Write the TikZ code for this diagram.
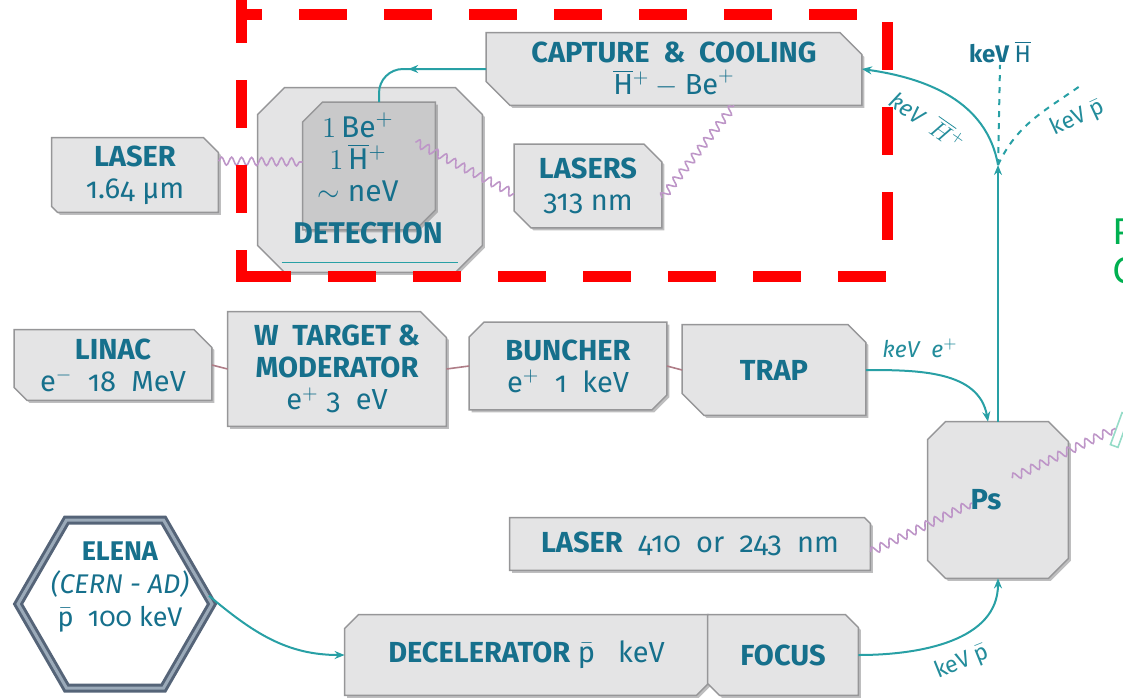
\documentclass[tikz,border=0pt]{standalone}
\usepackage{fontspec}
\setmainfont{Fira Sans}[Numbers=OldStyle]
\newfontfamily\slidefont{Carlito}
\usetikzlibrary{positioning}
\usetikzlibrary{calc}
\usetikzlibrary{arrows.meta}
\usetikzlibrary{shapes.geometric}
\usetikzlibrary{shadows}
\usetikzlibrary{decorations.pathmorphing}
\usetikzlibrary{decorations.markings}
\definecolor{txt}{RGB}{22,112,140}
\definecolor{lbl}{RGB}{35,140,155}
\definecolor{flowc}{RGB}{40,160,165}
\definecolor{boxfill}{RGB}{228,228,229}
\definecolor{boxedge}{RGB}{150,150,152}
\definecolor{shadowc}{RGB}{125,125,127}
\definecolor{innerfill}{RGB}{201,201,202}
\definecolor{wavec}{RGB}{190,150,200}
\definecolor{linkc}{RGB}{175,125,135}
\definecolor{hexedge}{RGB}{85,100,120}
\definecolor{hexin}{RGB}{155,170,185}
\definecolor{hilite}{RGB}{255,0,0}
\definecolor{slidegreen}{RGB}{0,176,80}
\definecolor{screenc}{RGB}{150,220,200}

\pgfdeclarelayer{bg}
\pgfsetlayers{bg,main}

% box outline round a node: corners nw, ne, se, sw cut by #3..#6
\newcommand{\facet}[6][boxfill]{%
    \begin{pgfonlayer}{bg}
        \draw[facetline, fill=#1] ($(#2.north west)+(#3,0)$) -- ($(#2.north east)+(-#4,0)$)
            -- ($(#2.north east)+(0,#4)$) -- ($(#2.south east)+(0,-#5)$)
            -- ($(#2.south east)+(-#5,0)$) -- ($(#2.south west)+(#6,0)$)
            -- ($(#2.south west)+(0,-#6)$) -- ($(#2.north west)+(0,#3)$) -- cycle;
    \end{pgfonlayer}}

\tikzset{
    unit/.style={rectangle, inner sep=0pt, text=txt, align=center, font=\fontsize{14.5}{16}\selectfont},
    facetline/.style={draw=boxedge, line width=0.7pt,
        drop shadow={shadow xshift=1.2pt, shadow yshift=-1.2pt, fill=shadowc}},
    flow/.style={draw=flowc, line width=1pt},
    flowarrow/.style={flow, -{Stealth[length=5pt,width=4pt]}},
    midtip/.style={decoration={markings, mark=at position 0.6 with {\arrow{Stealth[length=5pt,width=4pt]}}}, postaction={decorate}},
    wave/.style={draw=wavec, line width=0.8pt, decorate, decoration={snake, amplitude=2pt, segment length=5pt}},
    link/.style={draw=linkc, line width=0.8pt},
    tag/.style={text=lbl, font=\fontsize{11.5}{12}\selectfont, inner sep=1pt},
    hilite/.style={draw=hilite, line width=5.5pt, dash pattern=on 24pt off 18.5pt},
}

\begin{document}
\begin{tikzpicture}[x=0.5pt, y=-0.5pt]
    \useasboundingbox (0,0) rectangle (1123,697);

    % upper block: detection of the ions
    \node[unit, minimum width=112pt, minimum height=92pt] (detect) at (370,180) {};
    \facet{detect}{27}{27}{27}{27}
    \node[unit, minimum width=66pt, minimum height=63.5pt] (ions) at (369,166) {};
    \facet[innerfill]{ions}{20}{0}{20}{0}
    \node[unit, font=\fontsize{15}{16}\selectfont] (ionsname) at (358,157)
        {$1\,\mathrm{Be}^{+}$\\$1\,\overline{\mathrm{H}}{}^{+}$\\$\sim\mathrm{neV}$};
    \node[unit, font=\fontsize{15}{16}\selectfont\bfseries] (detname) at (368,233) {DETECTION};
    \draw[flow, line width=0.8pt] ($(detect.south west)+(24,-10)$) -- ($(detect.south east)+(-24,-10)$);

    \node[unit, minimum width=83pt, minimum height=37pt] (laserA) at (135,175)
        {\textbf{LASER}\\1.64 µm};
    \facet{laserA}{0}{15}{0}{6}
    \node[unit, minimum width=187.5pt, minimum height=36pt] (capture) at (674,69)
        {\textbf{CAPTURE\ \ \&\ \ COOLING}\\$\overline{\mathrm{H}}{}^{+}-\mathrm{Be}^{+}$};
    \facet{capture}{0}{22}{0}{24}
    \node[unit, minimum width=73.5pt, minimum height=41.5pt] (lasers) at (588,186)
        {\textbf{LASERS}\\313 nm};
    \facet{lasers}{0}{18}{0}{17}

    % positron line
    \node[unit, minimum width=98.5pt, minimum height=35pt] (linac) at (113,365)
        {\textbf{LINAC}\\e$^{-}$\ \ 18\ \ MeV};
    \facet{linac}{0}{18}{0}{13}
    \node[unit, minimum width=109pt, minimum height=57pt] (wtarget) at (337,369)
        {\textbf{W\ \ TARGET \&}\\\textbf{MODERATOR}\\$\mathrm{e}^{+}$\ 3\ \ eV};
    \facet{wtarget}{0}{26}{0}{0}
    \node[unit, minimum width=98.5pt, minimum height=43.5pt] (buncher) at (568,366)
        {\textbf{BUNCHER}\\e$^{+}$\ \ 1\ \ keV};
    \facet{buncher}{15}{0}{15}{0}
    \node[unit, minimum width=91.5pt, minimum height=45pt] (trap) at (774,370)
        {\textbf{TRAP}};
    \facet{trap}{0}{18}{0}{22}

    \draw[link] (linac.east) -- (wtarget.west);
    \draw[link] (wtarget.east) -- (buncher.west);
    \draw[link] (buncher.east) -- (trap.west);

    % positronium and the antiproton line
    \node[unit, minimum width=70pt, minimum height=78pt] (ps) at (998,500) {};
    \facet{ps}{18}{20}{20}{18}
    \node[unit, minimum width=180pt, minimum height=26pt] (laser410) at (690,544)
        {\textbf{LASER}\ \ 410\ \ or\ \ 243\ \ nm};
    \facet{laser410}{0}{6}{0}{0}

    \node[regular polygon, regular polygon sides=6, minimum size=97pt, fill=white,
        draw=hexedge, line width=1.5pt, double=hexin, double distance=1.5pt] (elena) at (115,604) {};
    \node[unit, font=\fontsize{13.5}{16.5}\selectfont] (elenaname) at (120,587)
        {\textbf{ELENA}\\\textit{(CERN - AD)}\\$\bar{\mathrm{p}}$\ \ 100 keV};

    \node[unit, minimum width=181.5pt, minimum height=40pt] (decel) at (526.5,655)
        {\textbf{DECELERATOR} $\bar{\mathrm{p}}$\ \ \ keV};
    \facet{decel}{14}{0}{12}{0}
    \node[unit, minimum width=75pt, minimum height=40pt] (focus) at (783,655)
        {\textbf{FOCUS}};
    \facet{focus}{0}{13}{0}{12}

    % wave lines of the lasers
    \draw[wave] ([yshift=7pt]laserA.east) -- ([yshift=2pt]ions.west);
    \draw[wave] ([shift={(-10pt,12pt)}]ions.east) -- ([yshift=-4pt]lasers.west);
    \draw[wave] ([yshift=-6pt]lasers.east) -- ([xshift=30pt]capture.south);
    \draw[wave] ([yshift=-4pt]laser410.east) -- ([shift={(-13pt,-1.5pt)}]ps.center);
    \node[draw=screenc, line width=0.8pt, fill=white, minimum width=4pt, minimum height=17pt,
        inner sep=0pt, rotate=-20] (screen) at (1120,430) {};
    \draw[wave] ([shift={(7pt,11pt)}]ps.center) -- (screen.west);
    \node[unit, font=\fontsize{14.5}{15}\selectfont\bfseries] (psname) at (986,500) {Ps};

    % beams
    \draw[flowarrow] (elena.5) to[out=-40, in=180] (decel.west);
    \draw[flowarrow] (focus.east) to[out=0, in=-90] (ps.south);
    \node[tag, rotate=22] (lblpbar) at (962,662) {keV $\bar{\mathrm{p}}$};
    \draw[flowarrow] (trap.east) to[out=0, in=100] ([xshift=-5pt]ps.north);
    \node[tag, font=\fontsize{11.5}{12}\selectfont\itshape] (lble) at (920,348) {keV\ \ e$^{+}$};

    \coordinate (split) at (998,165);
    \draw[flow, -{Stealth[length=5pt,width=4pt]}] (ps.north) -- (split);
    \draw[flowarrow] (split) to[out=100, in=-8] (capture.east);
    \node[tag, rotate=-35, font=\fontsize{11.5}{12}\selectfont\itshape] (lblhplus) at (928,120)
        {keV\ \ $\overline{H}{}^{+}$};
    \node[tag, text=txt, font=\fontsize{12}{12}\selectfont\bfseries] (hkev) at (1000,52) {keV $\overline{\mathrm{H}}$};
    \draw[flow, dashed] (split) -- (hkev.south);
    \coordinate (pfree) at (1080,86);
    \draw[flow, dashed] (split) to[out=65, in=215] (pfree);
    \node[tag, rotate=25] (lblpup) at (1078,118) {keV $\bar{\mathrm{p}}$};

    \draw[flow, rounded corners=12pt, midtip] (capture.west) -| ([xshift=5pt]ions.north);

    % highlight of the trapping zone
    \draw[hilite, dash phase=11pt] (236,14) -- (892,14);
    \draw[hilite] (241.5,-5) -- (241.5,282);
    \draw[hilite] (887,22) -- (887,270);
    \draw[hilite] (243,276) -- (892,276);

    \node[anchor=west, text=slidegreen, font=\slidefont\fontsize{20}{22}\selectfont] (pmark) at (1106,232) {P};
    \node[anchor=west, text=slidegreen, font=\slidefont\fontsize{20}{22}\selectfont] (cmark) at (1106,271) {C};
\end{tikzpicture}
\end{document}
